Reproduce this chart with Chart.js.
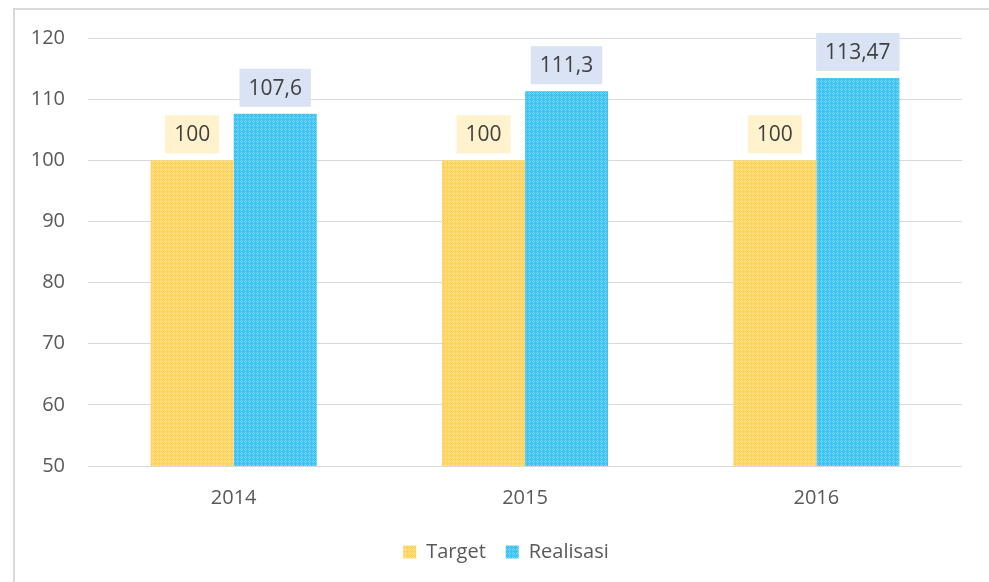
<!DOCTYPE html>
<html>
<head>
<meta charset="utf-8">
<script src="https://cdn.jsdelivr.net/npm/chart.js@4"></script>
<style>
  body { margin: 0; background: #fff; }
  #wrap { width: 989px; height: 582px; position: relative; }
</style>
</head>
<body>
<div id="wrap"><canvas id="myChart"></canvas></div>
<script>
const years = ["2014", "2015", "2016"];
const target = [100, 100, 100];
const realisasi = [107.6, 111.3, 113.47];
const yMin = 50;
const yMax = 120;
const yStep = 10;

const ctx = document.getElementById("myChart").getContext("2d");

// small dotted fill like the office pattern
const makePattern = (base, light) => {
  const c = document.createElement("canvas");
  c.width = 4;
  c.height = 4;
  const p = c.getContext("2d");
  p.fillStyle = base;
  p.fillRect(0, 0, 4, 4);
  p.fillStyle = light;
  p.fillRect(1, 0, 1, 1);
  p.fillRect(0, 1, 1, 1);
  p.fillRect(2, 1, 1, 1);
  p.fillRect(1, 2, 1, 1);
  return ctx.createPattern(c, "repeat");
};
const yellowFill = makePattern("#FFD45E", "#FFE595");
const blueFill = makePattern("#3DC3F4", "#7DD7F8");

const labelBg = ["#FFF2CC", "#DAE3F3"];

const fmt = (v) => String(v).replace(".", ",");

// outer frame (only left and top edges are in the shot)
const framePlugin = {
  id: "frame",
  beforeDraw: (chart) => {
    const c = chart.ctx;
    c.save();
    c.strokeStyle = "#D9D9D9";
    c.lineWidth = 2;
    c.beginPath();
    c.moveTo(14, 600);
    c.lineTo(14, 9);
    c.lineTo(1000, 9);
    c.stroke();
    c.restore();
  },
};

// legend sits centred on the whole frame, not the plot
const legendShift = {
  id: "legendShift",
  afterLayout: (chart) => {
    chart.legend.left += 25;
    chart.legend.right += 25;
  },
};

// value boxes above bars
const labelPlugin = {
  id: "valueBoxes",
  afterDraw: (chart) => {
    const c = chart.ctx;
    c.save();
    c.font = "21px 'Open Sans', sans-serif";
    c.textAlign = "center";
    c.textBaseline = "middle";
    chart.data.datasets.forEach((ds, i) => {
      const meta = chart.getDatasetMeta(i);
      meta.data.forEach((bar, j) => {
        const txt = fmt(ds.data[j]);
        const w = c.measureText(txt).width + 18;
        const h = 38;
        const bottom = bar.y - 7;
        c.fillStyle = labelBg[i];
        c.fillRect(bar.x - w / 2, bottom - h, w, h);
        c.fillStyle = "#404040";
        c.fillText(txt, bar.x, bottom - h / 2 + 1);
      });
    });
    c.restore();
  },
};

const myChart = new Chart(ctx, {
  type: "bar",
  data: {
    labels: years,
    datasets: [
      {
        label: "Target",
        data: target,
        backgroundColor: yellowFill,
        borderWidth: 0,
        categoryPercentage: 0.57,
        barPercentage: 1,
      },
      {
        label: "Realisasi",
        data: realisasi,
        backgroundColor: blueFill,
        borderWidth: 0,
        categoryPercentage: 0.57,
        barPercentage: 1,
      },
    ],
  },
  options: {
    responsive: true,
    maintainAspectRatio: false,
    animation: false,
    layout: {
      padding: { left: 0, right: 27, top: 38, bottom: 10 },
    },
    scales: {
      y: {
        min: yMin,
        max: yMax,
        z: 1,
        ticks: {
          stepSize: yStep,
          padding: 23,
          color: "#595959",
          font: { family: "'Open Sans', sans-serif", size: 20 },
        },
        grid: { color: "#D9D9D9", lineWidth: 1, drawTicks: false },
        border: { display: false },
        afterFit: (scale) => {
          scale.width = 88;
        },
      },
      x: {
        ticks: {
          padding: 12,
          color: "#595959",
          font: { family: "'Open Sans', sans-serif", size: 20 },
        },
        grid: { display: false },
        border: { display: false },
      },
    },
    plugins: {
      legend: {
        position: "bottom",
        labels: {
          boxWidth: 13,
          boxHeight: 13,
          padding: 20,
          color: "#595959",
          font: { family: "'Open Sans', sans-serif", size: 20 },
        },
      },
      tooltip: { enabled: false },
    },
  },
  plugins: [framePlugin, legendShift, labelPlugin],
});
</script>
</body>
</html>
